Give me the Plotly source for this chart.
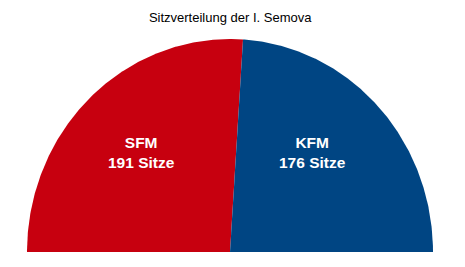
import numpy as np
import plotly.graph_objects as go

title = "Sitzverteilung der I. Semova"
parties = ["SFM", "KFM"]
seats = [191, 176]
colors = ["#C7000F", "#004583"]
label_pos_x = [-0.434, 0.404]
label_pos_y = [0.467, 0.467]

total = sum(seats)
fig = go.Figure()
start = 180.0
for name, val, col in zip(parties, seats, colors):
    span = val / total * 180.0
    th = np.radians(np.linspace(start, start - span, 200))
    xs = np.concatenate([[0], np.cos(th), [0]])
    ys = np.concatenate([[0], np.sin(th), [0]])
    fig.add_trace(go.Scatter(x=xs, y=ys, fill="toself", fillcolor=col,
                             mode="lines", line=dict(width=0, color=col),
                             hoverinfo="skip", showlegend=False))
    start -= span

for name, val, lx, ly in zip(parties, seats, label_pos_x, label_pos_y):
    fig.add_annotation(x=lx, y=ly, xref="x", yref="y",
                       text=f"<b>{name}<br>{val} Sitze</b>", showarrow=False,
                       font=dict(family="Liberation Sans, Arial", size=15.5, color="white"))

fig.update_layout(
    width=465, height=267,
    margin=dict(l=0, r=0, t=0, b=0),
    paper_bgcolor="white", plot_bgcolor="white",
    title=dict(text=title, x=0.495, xanchor="center", y=1 - 17 / 267, yanchor="middle",
               font=dict(family="Liberation Sans, Arial", size=13, color="black")),
    xaxis=dict(range=[-230 / 203, 235 / 203], visible=False, fixedrange=True),
    yaxis=dict(range=[-15 / 213, 252 / 213], visible=False, fixedrange=True),
)
fig.write_html("out.html")
